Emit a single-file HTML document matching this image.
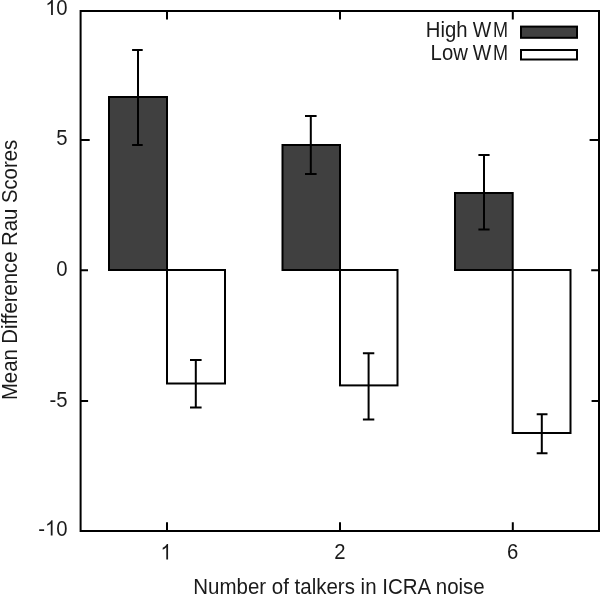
<!DOCTYPE html>
<html>
<head>
<meta charset="utf-8">
<style>
html,body{margin:0;padding:0;background:#fff;width:600px;height:595px;overflow:hidden;}
svg{display:block;will-change:transform;}
text{font-family:"Liberation Sans",sans-serif;font-size:20.3px;fill:#1a1a1a;}
</style>
</head>
<body>
<svg width="600" height="595" viewBox="0 0 600 595">
<g fill="none" stroke="#000" stroke-width="2">
  <rect x="109" y="97" width="58" height="173" fill="#404040"/>
  <rect x="167" y="270" width="58" height="113.5" fill="#fff"/>
  <rect x="282.5" y="145" width="57.5" height="125" fill="#404040"/>
  <rect x="340" y="270" width="57.5" height="115.4" fill="#fff"/>
  <rect x="455" y="193" width="57.7" height="77" fill="#404040"/>
  <rect x="512.7" y="270" width="57.8" height="163" fill="#fff"/>
  <path d="M138 50V145M132.1 50H142.7M132.1 145H142.7"/>
  <path d="M195.8 360V407.6M190.0 360H201.6M190.0 407.6H201.6"/>
  <path d="M310.8 116V174M305.0 116H316.6M305.0 174H316.6"/>
  <path d="M368.6 353.3V419.5M362.9 353.3H374.3M362.9 419.5H374.3"/>
  <path d="M484 155V229.6M478.4 155H489.6M478.4 229.6H489.6"/>
  <path d="M541.8 414.2V453.2M536.7 414.2H547.5M536.7 453.2H547.5"/>
  <rect x="80.6" y="11" width="518.4" height="520"/>
  <path d="M80.6 140H89.7M80.6 270.2H88M80.6 400.9H88.1"/>
  <path d="M599 140H589.6M599 270.2H591.2M599 400.9H591.6"/>
  <path d="M167 531V522.2M340 531V522.2M512.8 531V522.2"/>
  <path d="M167 11V19.4M340 11V19.4M512.8 11V19.4"/>
  <rect x="521" y="26.6" width="56" height="11.2" fill="#404040"/>
  <rect x="521" y="50" width="56" height="9.5" fill="#fff"/>
</g>
  <text transform="translate(67.5 15.10) scale(1 1.06)" text-anchor="end">0</text>
  <path fill="#1a1a1a" transform="translate(45.3 15.10) scale(0.009912 -0.010507)" d="M763 0H583V1147Q518 1085 412 1023T222 930V1104Q372 1175 484 1276T643 1472H763Z"/>
  <text transform="translate(67.5 145.20) scale(1 1.06)" text-anchor="end">5</text>
  <text transform="translate(67.5 276.20) scale(1 1.06)" text-anchor="end">0</text>
  <text transform="translate(67.5 406.70) scale(1 1.06)" text-anchor="end">-5</text>
  <text transform="translate(67.5 535.60) scale(1 1.06)" text-anchor="end">0</text>
  <text transform="translate(44.92 535.60) scale(1 1.06)" text-anchor="end">-</text>
  <path fill="#1a1a1a" transform="translate(45.0 535.60) scale(0.009912 -0.010507)" d="M763 0H583V1147Q518 1085 412 1023T222 930V1104Q372 1175 484 1276T643 1472H763Z"/>
  <text transform="translate(425.8 37.20) scale(1 1.06)" text-anchor="start">High</text>
  <text transform="translate(430.6 60.40) scale(1 1.06)" text-anchor="start">Low</text>
  <text transform="translate(472.8 37.20) scale(0.965 1.06)">W</text>
  <text transform="translate(493.1 37.20) scale(0.89 1.06)">M</text>
  <text transform="translate(472.8 60.40) scale(0.965 1.06)">W</text>
  <text transform="translate(493.1 60.40) scale(0.89 1.06)">M</text>
  <path fill="#1a1a1a" transform="translate(160.5 559.40) scale(0.009912 -0.010507)" d="M763 0H583V1147Q518 1085 412 1023T222 930V1104Q372 1175 484 1276T643 1472H763Z"/>
  <text transform="translate(340 559.40) scale(1 1.06)" text-anchor="middle">2</text>
  <text transform="translate(512.7 559.40) scale(1 1.06)" text-anchor="middle">6</text>
  <text transform="translate(339 594.40) scale(1 1.06)" text-anchor="middle" style="font-size:20.5px">Number of talkers in ICRA noise</text>
  <text transform="translate(17.00 270) rotate(-90) scale(1 1.06)" text-anchor="middle">Mean Difference Rau Scores</text>
</svg>
</body>
</html>
